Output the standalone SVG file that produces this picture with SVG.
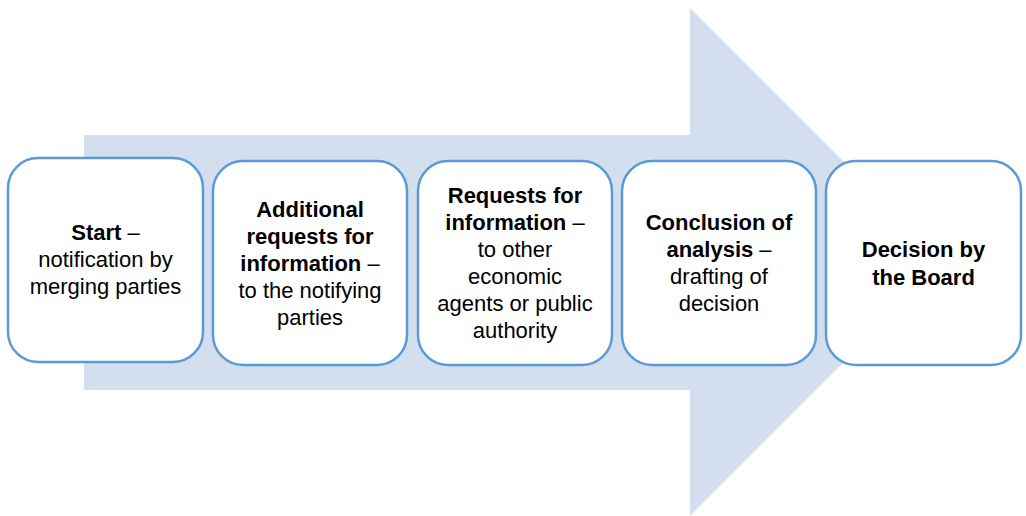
<svg xmlns="http://www.w3.org/2000/svg" width="1026" height="516" viewBox="0 0 1026 516">
<style>
.box{fill:#fff;stroke:#5B9BD5;stroke-width:2.5}
.t{font-family:"Liberation Sans",Arial,sans-serif;font-size:22px;fill:#000;text-anchor:middle}
.b{font-weight:bold}
</style>
<rect width="1026" height="516" fill="#fff"/>
<g id="arrow">
<polygon points="84,135 690,135 690,8 944,262 690,516 690,390 84,390" fill="#D3DEEF"/>
</g>
<g id="connectors"></g>
<g id="n1">
<rect class="box" x="8" y="158" width="195" height="204" rx="30"/>
<text class="t" x="105.5" y="240"><tspan class="b">Start</tspan> –</text>
<text class="t" x="105.5" y="267">notification by</text>
<text class="t" x="105.5" y="294">merging parties</text>
</g>
<g id="n2">
<rect class="box" x="213" y="161" width="194" height="204" rx="30"/>
<text class="t b" x="310" y="216.5">Additional</text>
<text class="t b" x="310" y="243.5">requests for</text>
<text class="t" x="310" y="270.5"><tspan class="b">information</tspan> –</text>
<text class="t" x="310" y="297.5">to the notifying</text>
<text class="t" x="310" y="324.5">parties</text>
</g>
<g id="n3">
<rect class="box" x="418" y="161" width="194" height="204" rx="30"/>
<text class="t b" x="515" y="202.5">Requests for</text>
<text class="t" x="515" y="229.5"><tspan class="b">information</tspan> –</text>
<text class="t" x="515" y="256.5">to other</text>
<text class="t" x="515" y="283.5">economic</text>
<text class="t" x="515" y="310.5">agents or public</text>
<text class="t" x="515" y="337.5">authority</text>
</g>
<g id="n4">
<rect class="box" x="622" y="161" width="194" height="204" rx="30"/>
<text class="t b" x="719" y="229.5">Conclusion of</text>
<text class="t" x="719" y="256.5"><tspan class="b">analysis</tspan> –</text>
<text class="t" x="719" y="283.5">drafting of</text>
<text class="t" x="719" y="310.5">decision</text>
</g>
<g id="n5">
<rect class="box" x="826" y="161" width="195" height="204" rx="30"/>
<text class="t b" x="923.5" y="256.5">Decision by</text>
<text class="t b" x="923.5" y="284.5">the Board</text>
</g>
</svg>
